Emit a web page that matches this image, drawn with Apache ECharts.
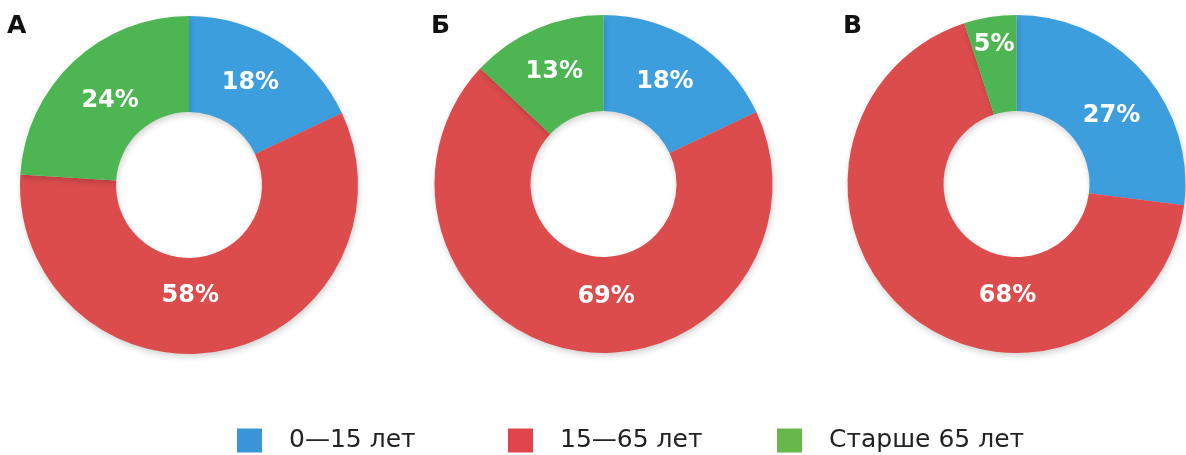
<!DOCTYPE html>
<html>
<head>
<meta charset="utf-8">
<script src="https://cdn.jsdelivr.net/npm/echarts@6/dist/echarts.min.js"></script>
<style>
  html, body { margin: 0; padding: 0; background: #ffffff; }
  #chart { width: 1186px; height: 455px; }
</style>
</head>
<body>
<div id="chart"></div>
<script>
// ---- data ----
const categories = ['0—15 лет', '15—65 лет', 'Старше 65 лет'];
const panelTitles = ['А', 'Б', 'В'];
const valuesA = [18, 58, 24];
const valuesB = [18, 69, 13];
const valuesC = [27, 68, 5];

// ---- styling ----
const sliceColors = ['#3d9ede', '#dc4c4d', '#4db551'];
const legendColors = ['#3a95d8', '#e2444c', '#66b84a'];
const centers = [[189, 185], [603.5, 184], [1016.5, 184]];
const titleLefts = [7, 431, 843];
const legendLefts = [237, 508, 777];
// small manual label nudges, as in the reference layout
const labelNudges = [
  [[-5, 2], [-22, -11], [6, 6]],
  [[-5, 2], [22, -10], [0, 2]],
  [[2, 14], [70, 16], [-3, -17]]
];

const allValues = [valuesA, valuesB, valuesC];

const series = allValues.map((vals, si) => ({
  type: 'pie',
  center: centers[si],
  radius: [73, 169],
  startAngle: 90,
  clockwise: true,
  avoidLabelOverlap: false,
  animation: false,
  silent: true,
  itemStyle: {
    borderWidth: 0,
    shadowBlur: 6,
    shadowOffsetX: 1,
    shadowOffsetY: 3,
    shadowColor: 'rgba(0,0,0,0.18)'
  },
  label: {
    show: true,
    position: 'inside',
    formatter: '{c}%',
    color: '#ffffff',
    fontFamily: 'DejaVu Sans',
    fontWeight: 'bold',
    fontSize: 24
  },
  labelLine: { show: false },
  data: vals.map((v, i) => ({
    name: categories[i],
    value: v,
    itemStyle: { color: sliceColors[i] },
    label: { offset: labelNudges[si][i] }
  }))
}));

const titles = panelTitles.map((t, i) => ({
  text: t,
  left: titleLefts[i],
  top: 14,
  padding: 0,
  textStyle: {
    fontFamily: 'DejaVu Sans',
    fontWeight: 'bold',
    fontSize: 25,
    color: '#111111'
  }
}));

const legends = categories.map((c, i) => ({
  data: [{ name: c, itemStyle: { color: legendColors[i] } }],
  left: legendLefts[i],
  top: 428,
  padding: 0,
  icon: 'rect',
  itemWidth: 25,
  itemHeight: 24,
  selectedMode: false,
  textStyle: {
    fontFamily: 'DejaVu Sans',
    fontSize: 25,
    color: '#222222',
    padding: [0, 0, 0, 22]
  }
}));

const chart = echarts.init(document.getElementById('chart'), null, { renderer: 'canvas' });
chart.setOption({
  backgroundColor: '#ffffff',
  animation: false,
  title: titles,
  legend: legends,
  series: series
});
</script>
</body>
</html>
